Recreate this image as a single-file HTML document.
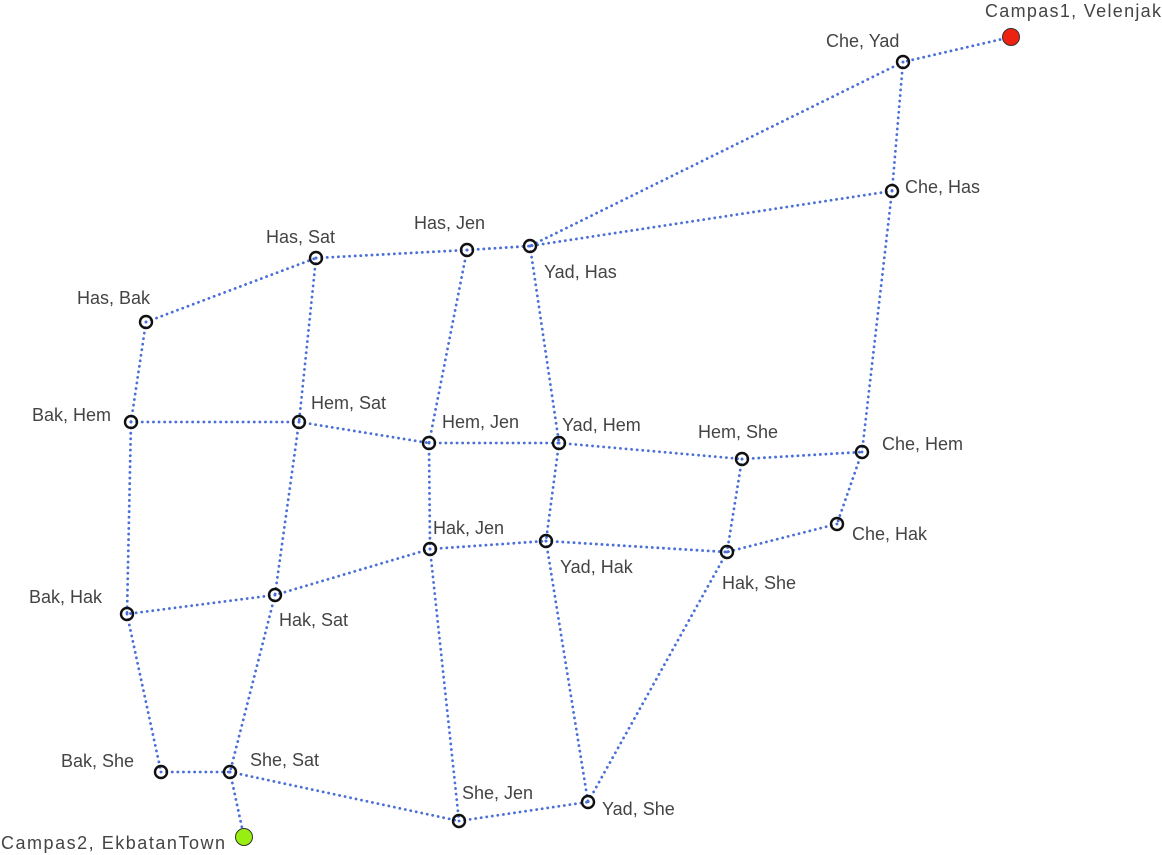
<!DOCTYPE html>
<html><head><meta charset="utf-8"><style>
html,body{margin:0;padding:0;background:#fff;}
svg{display:block;}
text{font-family:"Liberation Sans","DejaVu Sans",sans-serif;font-size:18px;fill:#444;}
</style></head><body>
<svg width="1162" height="855" viewBox="0 0 1162 855" xmlns="http://www.w3.org/2000/svg">
<g stroke="#4a6fd8" stroke-width="2.8" stroke-dasharray="0.1 5.5" stroke-linecap="round" fill="none">
<line x1="1011" y1="37" x2="903" y2="62"/>
<line x1="903" y1="62" x2="530" y2="246"/>
<line x1="903" y1="62" x2="892" y2="191"/>
<line x1="892" y1="191" x2="530" y2="246"/>
<line x1="892" y1="191" x2="862" y2="452"/>
<line x1="467" y1="250" x2="530" y2="246"/>
<line x1="316" y1="258" x2="467" y2="250"/>
<line x1="146" y1="322" x2="316" y2="258"/>
<line x1="146" y1="322" x2="131" y2="422"/>
<line x1="316" y1="258" x2="299" y2="422"/>
<line x1="467" y1="250" x2="429" y2="443"/>
<line x1="530" y1="246" x2="559" y2="443"/>
<line x1="131" y1="422" x2="299" y2="422"/>
<line x1="299" y1="422" x2="429" y2="443"/>
<line x1="429" y1="443" x2="559" y2="443"/>
<line x1="559" y1="443" x2="742" y2="459"/>
<line x1="742" y1="459" x2="862" y2="452"/>
<line x1="862" y1="452" x2="837" y2="524"/>
<line x1="837" y1="524" x2="727" y2="552"/>
<line x1="742" y1="459" x2="727" y2="552"/>
<line x1="559" y1="443" x2="546" y2="541"/>
<line x1="429" y1="443" x2="430" y2="549"/>
<line x1="430" y1="549" x2="546" y2="541"/>
<line x1="546" y1="541" x2="727" y2="552"/>
<line x1="299" y1="422" x2="275" y2="595"/>
<line x1="430" y1="549" x2="275" y2="595"/>
<line x1="275" y1="595" x2="127" y2="614"/>
<line x1="131" y1="422" x2="127" y2="614"/>
<line x1="127" y1="614" x2="161" y2="772"/>
<line x1="161" y1="772" x2="230" y2="772"/>
<line x1="275" y1="595" x2="230" y2="772"/>
<line x1="230" y1="772" x2="244" y2="837"/>
<line x1="230" y1="772" x2="459" y2="821"/>
<line x1="459" y1="821" x2="588" y2="802"/>
<line x1="430" y1="549" x2="459" y2="821"/>
<line x1="546" y1="541" x2="588" y2="802"/>
<line x1="727" y1="552" x2="588" y2="802"/>
</g>
<g stroke="#111" stroke-width="2.4" fill="none">
<circle cx="903" cy="62" r="6"/><circle cx="892" cy="191" r="6"/>
<circle cx="467" cy="250" r="6"/><circle cx="530" cy="246" r="6"/>
<circle cx="316" cy="258" r="6"/><circle cx="146" cy="322" r="6"/>
<circle cx="131" cy="422" r="6"/><circle cx="299" cy="422" r="6"/>
<circle cx="429" cy="443" r="6"/><circle cx="559" cy="443" r="6"/>
<circle cx="742" cy="459" r="6"/><circle cx="862" cy="452" r="6"/>
<circle cx="837" cy="524" r="6"/><circle cx="430" cy="549" r="6"/>
<circle cx="546" cy="541" r="6"/><circle cx="727" cy="552" r="6"/>
<circle cx="127" cy="614" r="6"/><circle cx="275" cy="595" r="6"/>
<circle cx="161" cy="772" r="6"/><circle cx="230" cy="772" r="6"/>
<circle cx="459" cy="821" r="6"/><circle cx="588" cy="802" r="6"/>
</g>
<circle cx="1011" cy="37" r="8.5" fill="#ee2211" stroke="#333" stroke-width="1"/>
<circle cx="244" cy="837" r="8.5" fill="#99ee11" stroke="#333" stroke-width="1"/>
<text x="985" y="17" textLength="176">Campas1, Velenjak</text>
<text x="826" y="47">Che, Yad</text>
<text x="905" y="193">Che, Has</text>
<text x="414" y="229">Has, Jen</text>
<text x="544" y="278">Yad, Has</text>
<text x="266" y="243">Has, Sat</text>
<text x="77" y="304">Has, Bak</text>
<text x="32" y="421">Bak, Hem</text>
<text x="311" y="409">Hem, Sat</text>
<text x="442" y="428">Hem, Jen</text>
<text x="562" y="431">Yad, Hem</text>
<text x="698" y="438">Hem, She</text>
<text x="882" y="450">Che, Hem</text>
<text x="433" y="534">Hak, Jen</text>
<text x="852" y="540">Che, Hak</text>
<text x="560" y="573">Yad, Hak</text>
<text x="722" y="589">Hak, She</text>
<text x="29" y="603">Bak, Hak</text>
<text x="279" y="626">Hak, Sat</text>
<text x="61" y="767">Bak, She</text>
<text x="250" y="766">She, Sat</text>
<text x="462" y="799">She, Jen</text>
<text x="602" y="815">Yad, She</text>
<text x="1" y="849" textLength="224">Campas2, EkbatanTown</text>
</svg>
</body></html>
